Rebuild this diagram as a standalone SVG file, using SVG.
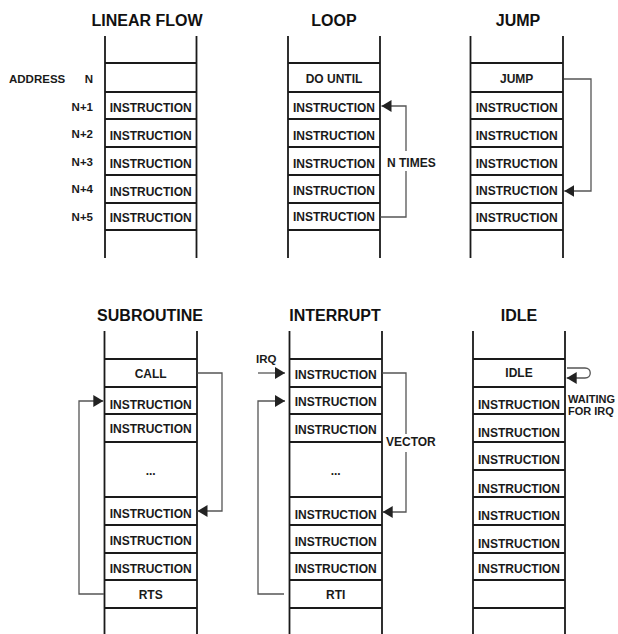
<svg xmlns="http://www.w3.org/2000/svg" width="618" height="634" viewBox="0 0 618 634">
<defs>
<style>
.t{font-family:"Liberation Sans",Arial,sans-serif;font-weight:bold;font-size:16px;fill:#111;text-anchor:middle}
.c{font-family:"Liberation Sans",Arial,sans-serif;font-weight:bold;font-size:12px;fill:#1a1a1a;text-anchor:middle}
.l{font-family:"Liberation Sans",Arial,sans-serif;font-weight:bold;font-size:11.5px;fill:#1a1a1a}
.r{text-anchor:end}
.v{stroke:#1a1a1a;stroke-width:1.8;fill:none}
.h{stroke:#1a1a1a;stroke-width:2;fill:none}
.k{stroke:#555;stroke-width:1.3;fill:none}
</style>
<marker id="ah" markerUnits="userSpaceOnUse" markerWidth="11" markerHeight="13" refX="10" refY="6" orient="auto">
<path d="M0,0 L10,6 L0,12 z" fill="#222"/>
</marker>
</defs>
<rect width="618" height="634" fill="#fff"/>

<!-- LINEAR FLOW -->
<g id="linear-flow">
<text class="t" x="147" y="26">LINEAR FLOW</text>
<path class="v" d="M105,36 V258 M196.5,36 V258"/>
<path class="h" d="M105,63 H196.5 M105,92 H196.5 M105,119 H196.5 M105,147 H196.5 M105,175 H196.5 M105,203 H196.5 M105,230 H196.5"/>
<g id="lin-addr"><text class="l" x="9" y="83">ADDRESS</text><text class="l r" x="93" y="83">N</text></g>
<g id="lin-1"><text class="l r" x="93" y="110.5">N+1</text><text class="c" x="150.7" y="112">INSTRUCTION</text></g>
<g id="lin-2"><text class="l r" x="93" y="138">N+2</text><text class="c" x="150.7" y="140">INSTRUCTION</text></g>
<g id="lin-3"><text class="l r" x="93" y="166">N+3</text><text class="c" x="150.7" y="167.5">INSTRUCTION</text></g>
<g id="lin-4"><text class="l r" x="93" y="193">N+4</text><text class="c" x="150.7" y="196">INSTRUCTION</text></g>
<g id="lin-5"><text class="l r" x="93" y="221">N+5</text><text class="c" x="150.7" y="222">INSTRUCTION</text></g>
</g>

<!-- LOOP -->
<g id="loop">
<text class="t" x="334" y="26">LOOP</text>
<path class="v" d="M288,36 V258 M380,36 V258"/>
<path class="h" d="M288,63 H380 M288,92 H380 M288,119 H380 M288,147 H380 M288,175 H380 M288,203 H380 M288,230 H380"/>
<g id="loop-do"><text class="c" x="334" y="83">DO UNTIL</text></g>
<g id="loop-1"><text class="c" x="334" y="112">INSTRUCTION</text></g>
<g id="loop-2"><text class="c" x="334" y="140">INSTRUCTION</text></g>
<g id="loop-3"><text class="c" x="334" y="167.5">INSTRUCTION</text></g>
<g id="loop-4"><text class="c" x="334" y="194.5">INSTRUCTION</text></g>
<g id="loop-5"><text class="c" x="334" y="221">INSTRUCTION</text></g>
</g>

<!-- JUMP -->
<g id="jump">
<text class="t" x="518" y="26">JUMP</text>
<path class="v" d="M470.5,36 V258 M563,36 V258"/>
<path class="h" d="M470.5,63 H563 M470.5,92 H563 M470.5,119 H563 M470.5,147 H563 M470.5,175 H563 M470.5,203 H563 M470.5,230 H563"/>
<g id="jump-jump"><text class="c" x="516.7" y="83">JUMP</text></g>
<g id="jump-1"><text class="c" x="516.7" y="112">INSTRUCTION</text></g>
<g id="jump-2"><text class="c" x="516.7" y="140">INSTRUCTION</text></g>
<g id="jump-3"><text class="c" x="516.7" y="167.5">INSTRUCTION</text></g>
<g id="jump-4"><text class="c" x="516.7" y="195">INSTRUCTION</text></g>
<g id="jump-5"><text class="c" x="516.7" y="221.5">INSTRUCTION</text></g>
</g>

<!-- SUBROUTINE -->
<g id="subroutine">
<text class="t" x="150" y="321">SUBROUTINE</text>
<path class="v" d="M104.5,331 V634 M197,331 V634"/>
<path class="h" d="M104.5,359 H197 M104.5,387 H197 M104.5,414 H197 M104.5,442 H197 M104.5,497 H197 M104.5,525 H197 M104.5,553 H197 M104.5,580 H197 M104.5,608 H197"/>
<g id="sub-call"><text class="c" x="150.7" y="378">CALL</text></g>
<g id="sub-1"><text class="c" x="150.7" y="409">INSTRUCTION</text></g>
<g id="sub-2"><text class="c" x="150.7" y="432.5">INSTRUCTION</text></g>
<g id="sub-dots"><text class="c" x="150.7" y="475">...</text></g>
<g id="sub-3"><text class="c" x="150.7" y="518">INSTRUCTION</text></g>
<g id="sub-4"><text class="c" x="150.7" y="545">INSTRUCTION</text></g>
<g id="sub-5"><text class="c" x="150.7" y="572.5">INSTRUCTION</text></g>
<g id="sub-rts"><text class="c" x="150.7" y="599">RTS</text></g>
</g>

<!-- INTERRUPT -->
<g id="interrupt">
<text class="t" x="335" y="321">INTERRUPT</text>
<path class="v" d="M289.5,331 V634 M382,331 V634"/>
<path class="h" d="M289.5,359 H382 M289.5,387 H382 M289.5,414 H382 M289.5,442 H382 M289.5,497 H382 M289.5,525 H382 M289.5,553 H382 M289.5,580 H382 M289.5,608 H382"/>
<g id="int-1"><text class="c" x="335.7" y="379">INSTRUCTION</text></g>
<g id="int-2"><text class="c" x="335.7" y="406">INSTRUCTION</text></g>
<g id="int-3"><text class="c" x="335.7" y="434">INSTRUCTION</text></g>
<g id="int-dots"><text class="c" x="335.7" y="475">...</text></g>
<g id="int-4"><text class="c" x="335.7" y="519">INSTRUCTION</text></g>
<g id="int-5"><text class="c" x="335.7" y="546">INSTRUCTION</text></g>
<g id="int-6"><text class="c" x="335.7" y="573">INSTRUCTION</text></g>
<g id="int-rti"><text class="c" x="335.7" y="599">RTI</text></g>
</g>

<!-- IDLE -->
<g id="idle">
<text class="t" x="519" y="321">IDLE</text>
<path class="v" d="M473,331 V634 M565,331 V634"/>
<path class="h" d="M473,359 H565 M473,387 H565 M473,414 H565 M473,442 H565 M473,470 H565 M473,497 H565 M473,525 H565 M473,553 H565 M473,580 H565 M473,608 H565"/>
<g id="idle-idle"><text class="c" x="519" y="377">IDLE</text></g>
<g id="idle-1"><text class="c" x="519" y="409">INSTRUCTION</text></g>
<g id="idle-2"><text class="c" x="519" y="437">INSTRUCTION</text></g>
<g id="idle-3"><text class="c" x="519" y="464">INSTRUCTION</text></g>
<g id="idle-4"><text class="c" x="519" y="493">INSTRUCTION</text></g>
<g id="idle-5"><text class="c" x="519" y="520">INSTRUCTION</text></g>
<g id="idle-6"><text class="c" x="519" y="548">INSTRUCTION</text></g>
<g id="idle-7"><text class="c" x="519" y="573">INSTRUCTION</text></g>
</g>

<!-- CONNECTORS -->
<g id="connectors">
<path class="k" d="M380.5,217 H406 V106 H381.5" marker-end="url(#ah)"/>
<rect x="385" y="151" width="54" height="20" fill="#fff"/>
<text class="l" x="387" y="167" style="font-size:12px">N TIMES</text>

<path class="k" d="M564,79 H591 V191 H564.3" marker-end="url(#ah)"/>

<path class="k" d="M197.5,373 H222 V511 H197.5" marker-end="url(#ah)"/>
<path class="k" d="M104,594 H79 V401 H103.3" marker-end="url(#ah)"/>

<text class="l" x="256" y="363">IRQ</text>
<path class="k" d="M258,373 H285" marker-end="url(#ah)"/>
<path class="k" d="M382.5,373 H406 V512 H382.7" marker-end="url(#ah)"/>
<rect x="384" y="434" width="54" height="18" fill="#fff"/>
<text class="l" x="386" y="446" style="font-size:12px">VECTOR</text>
<path class="k" d="M284,594 H258 V401 H285" marker-end="url(#ah)"/>

<path class="k" d="M567,368 H585 C592,368 592,378 585,378 H566.7" marker-end="url(#ah)"/>
<text class="l" x="568" y="402.5" style="font-size:11px">WAITING</text>
<text class="l" x="568" y="415" style="font-size:11px">FOR IRQ</text>
</g>
</svg>
